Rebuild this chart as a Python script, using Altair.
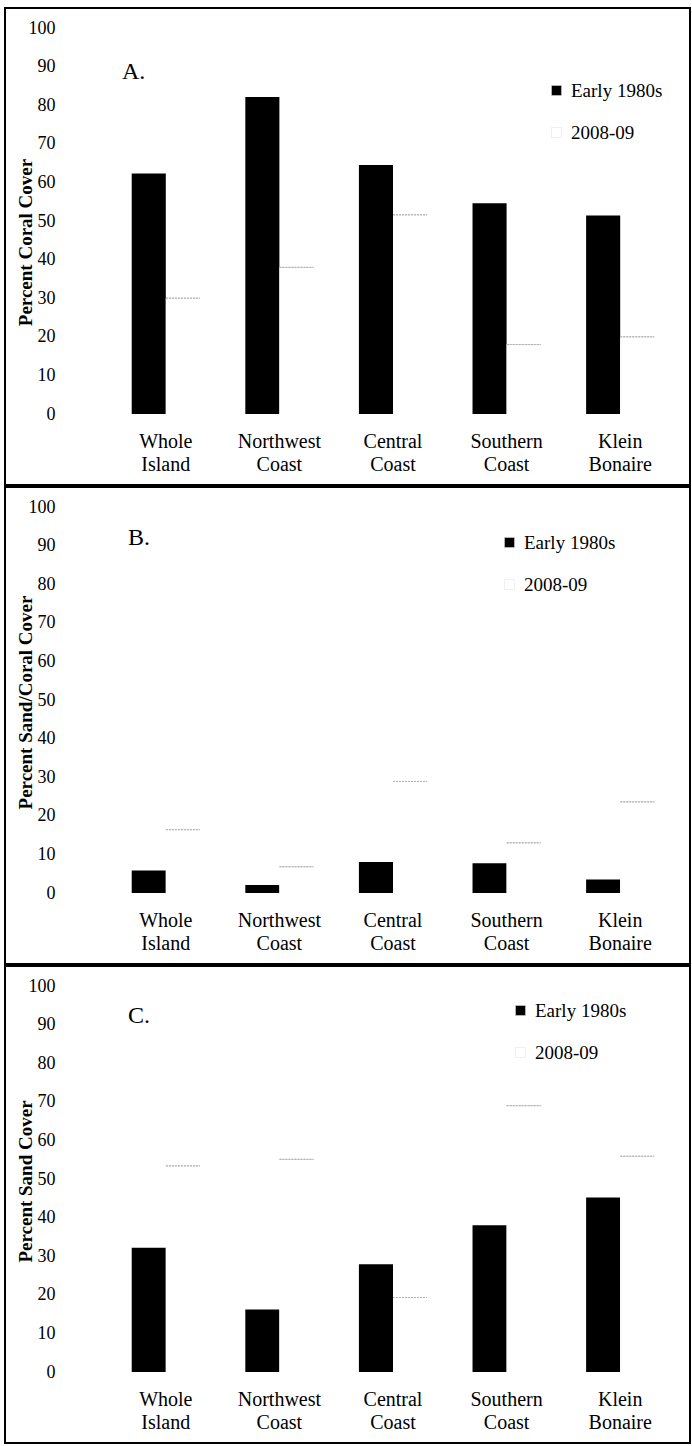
import altair as alt
import pandas as pd

categories = ["Whole Island", "Northwest Coast", "Central Coast", "Southern Coast", "Klein Bonaire"]
periods = ["Early 1980s", "2008-09"]

coral_early = [62.3, 82.1, 64.5, 54.6, 51.4]
coral_recent = [30.0, 38.0, 51.6, 18.0, 20.0]
sandcoral_early = [5.8, 2.1, 8.0, 7.7, 3.5]
sandcoral_recent = [16.4, 6.8, 28.9, 13.0, 23.6]
sand_early = [32.2, 16.2, 27.9, 38.0, 45.2]
sand_recent = [53.4, 55.1, 19.3, 69.0, 55.9]

y_ticks = list(range(0, 101, 10))

FONT = "Liberation Serif"
W, H = 568, 386


def make_df(early, recent):
    rows = []
    for c, e, r in zip(categories, early, recent):
        rows.append({"site": c, "period": periods[0], "value": e})
        rows.append({"site": c, "period": periods[1], "value": r})
    return pd.DataFrame(rows)


def panel(df, letter, ytitle, title_y, legend_x, legend_y, letter_x, letter_y):
    x_enc = alt.X(
        "site:N",
        sort=categories,
        scale=alt.Scale(paddingInner=0.4, paddingOuter=0.2),
        axis=alt.Axis(
            title=None, labelAngle=0, labelExpr="split(datum.label, ' ')",
            domain=False, ticks=False, tickSize=0, labelPadding=17,
            labelFontSize=20, labelLineHeight=23, labelFont=FONT,
            labelColor="black", grid=False, labelOverlap=False,
        ),
    )
    xo_enc = alt.XOffset(
        "period:N", sort=periods,
        scale=alt.Scale(domain=periods, paddingInner=0, paddingOuter=0),
    )
    y_enc = alt.Y(
        "value:Q", stack=None,
        scale=alt.Scale(domain=[0, 100], nice=False),
        axis=alt.Axis(
            values=y_ticks, domain=False, ticks=False, tickSize=0, grid=False,
            labelOverlap=False, labelFlush=False,
            labelPadding=54, labelFontSize=18, labelFont=FONT, labelColor="black",
            title=ytitle, titleFont=FONT, titleFontSize=19, titleFontWeight="bold",
            titleColor="black", titleX=-84, titleY=title_y, titleAngle=270,
            titleAlign="center", titleBaseline="middle",
        ),
    )
    bars = alt.Chart(df).mark_bar().encode(
        x=x_enc,
        xOffset=xo_enc,
        y=y_enc,
        color=alt.Color(
            "period:N",
            scale=alt.Scale(domain=periods, range=["black", "white"]),
            legend=alt.Legend(
                orient="none", legendX=legend_x, legendY=legend_y, title=None,
                symbolType="square", symbolSize=100, labelFontSize=19,
                labelFont=FONT, labelColor="black", rowPadding=22,
                symbolStrokeColor="#e0e0e0", symbolStrokeWidth=0.5,
                labelOffset=5, padding=0,
            ),
        ),
    )
    tops = alt.Chart(df).transform_filter(
        alt.datum.period == periods[1]
    ).mark_bar(fillOpacity=0, stroke="#b4b4b4", strokeWidth=1, strokeDash=[2, 1]).encode(
        x=x_enc,
        xOffset=xo_enc,
        y=y_enc,
        y2=alt.Y2("value:Q"),
    )
    label = alt.Chart(alt.Data(values=[{"t": letter}])).mark_text(
        font=FONT, fontSize=24, align="left", baseline="middle", color="black"
    ).encode(text="t:N", x=alt.value(letter_x), y=alt.value(letter_y))
    frame = alt.Chart(alt.Data(values=[{"f": 1}])).mark_rect(
        fillOpacity=0, stroke="black", strokeWidth=2
    ).encode(
        x=alt.value(-104), x2=alt.value(581), y=alt.value(-20), y2=alt.value(457)
    )
    return alt.layer(bars, tops, label, frame).properties(width=W, height=H)


pA = panel(make_df(coral_early, coral_recent), "A.", "Percent Coral Cover",
           214, 438, 53, 13, 44)
pB = panel(make_df(sandcoral_early, sandcoral_recent), "B.", "Percent Sand/Coral Cover",
           195, 391, 26, 19, 31)
pC = panel(make_df(sand_early, sand_recent), "C.", "Percent Sand Cover",
           195, 402, 15, 19, 30)

chart = alt.vconcat(pA, pB, pC, spacing=0).resolve_scale(
    color="independent"
).resolve_legend(color="independent").properties(
    padding={"left": 4, "top": 7, "right": 0, "bottom": 0},
    background="white",
).configure(font=FONT).configure_axis(
    labelFont=FONT, titleFont=FONT
).configure_legend(labelFont=FONT).configure_text(font=FONT).configure_view(strokeWidth=0)

chart.save("out.html", embed_options={"renderer": "svg", "actions": False})
